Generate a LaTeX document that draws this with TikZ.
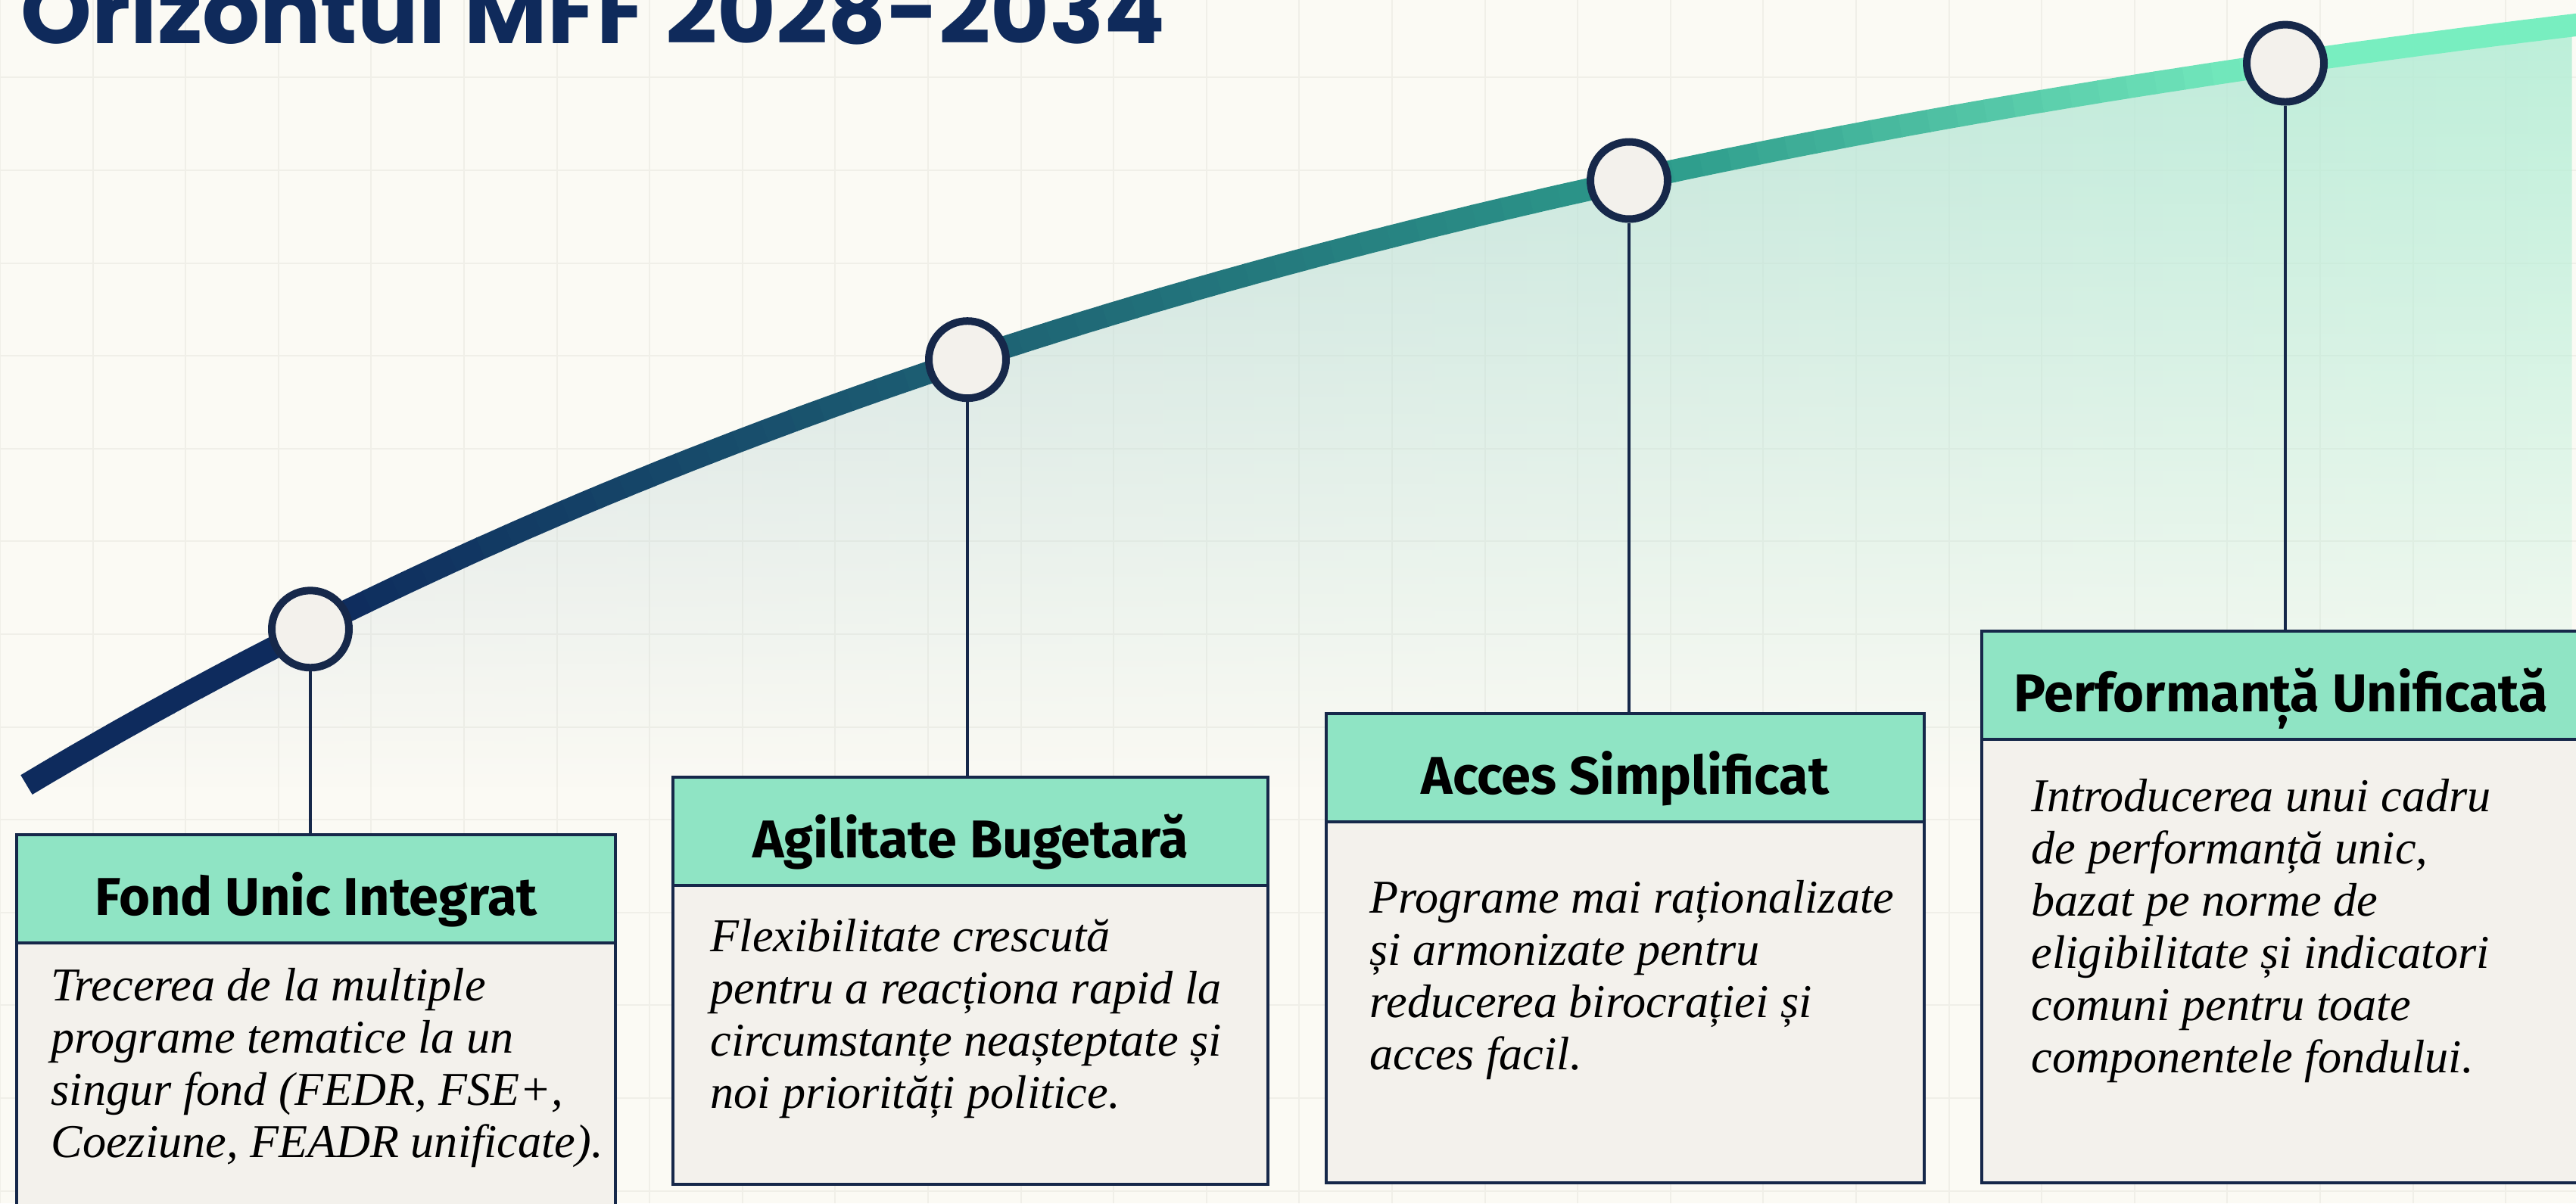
\documentclass[tikz,border=0pt]{standalone}
\usepackage{fontspec}
\setmainfont{Liberation Serif}
\newfontfamily\titlefont{Poppins}
\newfontfamily\headfont{Fira Sans}
\usepackage{xcolor}
\usepackage{tikz}
\usetikzlibrary{positioning,fadings}

\definecolor{bgcream}{HTML}{FBFAF4}
\definecolor{gridc}{HTML}{F0EFE8}
\definecolor{navyc}{HTML}{0E2B5D}
\definecolor{tealc}{HTML}{2E9C8C}
\definecolor{mintc}{HTML}{78EEC0}
\definecolor{inkc}{HTML}{16284A}
\definecolor{headc}{HTML}{8FE4C4}
\definecolor{bodyc}{HTML}{F3F1EC}
\definecolor{shadeL}{HTML}{C8D2DA}
\definecolor{shadeR}{HTML}{B5EED6}
\definecolor{titlec}{HTML}{0F2A5B}
\tikzfading[name=fadedown, top color=transparent!10, bottom color=transparent!100]

\begin{document}
\begin{tikzpicture}[
  gridline/.style={gridc,line width=0.02cm},
  trend/.style={line width=0.30cm},
  milestone/.style={circle,draw=inkc,fill=bodyc,line width=0.1cm,minimum size=1.02cm,inner sep=0},
  link/.style={inkc,line width=0.04cm},
  headbox/.style={draw=inkc,fill=headc,line width=0.045cm,minimum height=1.43cm,anchor=north west,
    outer sep=0,inner sep=0,text height=0.7cm,text depth=0cm,font=\headfont\bfseries\fontsize{20}{24}\selectfont},
  bodybox/.style={draw=inkc,fill=bodyc,line width=0.045cm,anchor=north west,outer sep=0,inner sep=0},
  bodytext/.style={anchor=north west,align=left,inner sep=0,font=\itshape\fontsize{17.7}{19.6}\selectfont}]
  \useasboundingbox (0,0) rectangle (34.03,15.90);
  \fill[bgcream] (0,0) rectangle (34.03,15.90);
  % faint grid
  \foreach \k in {0,...,27} \draw[gridline] ({1.226*\k},0) -- ({1.226*\k},15.90);
  \foreach \k in {0,...,12} \draw[gridline] (0,{14.875-1.226*\k}) -- (34.03,{14.875-1.226*\k});
  % glow under the trend line
  \shade[left color=shadeL,right color=shadeR,path fading=fadedown]
        plot[domain=0.35:34.03,samples=60] (\x,{18.09-12.77*exp(-0.0477*\x)})
        -- (34.03,5.5) -- (0.35,5.5) -- cycle;
  % trend line, navy to mint
  \foreach \i in {0,...,89}{
    \pgfmathsetmacro\xa{0.35+0.375*\i}
    \pgfmathsetmacro\xb{\xa+0.385}
    \pgfmathtruncatemacro\pa{min(100,max(0,(\xa-4)/0.18))}
    \pgfmathtruncatemacro\pb{100-min(100,max(0,(\xa-22)/0.08))}
    \draw[trend,draw=tealc!\pa!navyc!\pb!mintc]
        plot[domain=\xa:\xb,samples=4] (\x,{18.09-12.77*exp(-0.0477*\x)});
  }
  % milestones
  \foreach \n/\px in {1/4.10,2/12.78,3/21.52,4/30.19}
    \node[milestone] (m\n) at (\px,{18.09-12.77*exp(-0.0477*\px)}) {};
  % cards
  \node[headbox,minimum width=7.91cm] (h1) at (0.22,4.87) {Fond Unic Integrat};
  \node[bodybox,minimum width=7.91cm,minimum height=4.2cm] (b1) at (h1.south west) {};
  \node[headbox,minimum width=7.86cm] (h2) at (8.89,5.63) {Agilitate Bugetară};
  \node[bodybox,minimum width=7.86cm,minimum height=3.95cm] (b2) at (h2.south west) {};
  \node[headbox,minimum width=7.90cm] (h3) at (17.52,6.47) {Acces Simplificat};
  \node[bodybox,minimum width=7.90cm,minimum height=4.77cm] (b3) at (h3.south west) {};
  \node[headbox,minimum width=7.90cm] (h4) at (26.18,7.56) {Performanță Unificată};
  \node[bodybox,minimum width=7.90cm,minimum height=5.86cm] (b4) at (h4.south west) {};
  \foreach \n in {1,...,4} \draw[link] (m\n) -- (m\n |- h\n.north);
  \node[bodytext] (t1) at (0.67,3.11) {Trecerea de la multiple\\programe tematice la un\\singur fond (FEDR, FSE+,\\Coeziune, FEADR unificate).};
  \node[bodytext] (t2) at (9.38,3.76) {Flexibilitate crescută\\pentru a reacționa rapid la\\circumstanțe neașteptate și\\noi priorități politice.};
  \node[bodytext] (t3) at (18.09,4.27) {Programe mai raționalizate\\și armonizate pentru\\reducerea birocrației și\\acces facil.};
  \node[bodytext] (t4) at (26.83,5.61) {Introducerea unui cadru\\de performanță unic,\\bazat pe norme de\\eligibilitate și indicatori\\comuni pentru toate\\componentele fondului.};
  \node[anchor=base west,inner sep=0,text=titlec,font=\titlefont\bfseries\fontsize{34}{40}\selectfont] (title) at (0.27,15.32) {Orizontul MFF 2028-2034};
\end{tikzpicture}
\end{document}
